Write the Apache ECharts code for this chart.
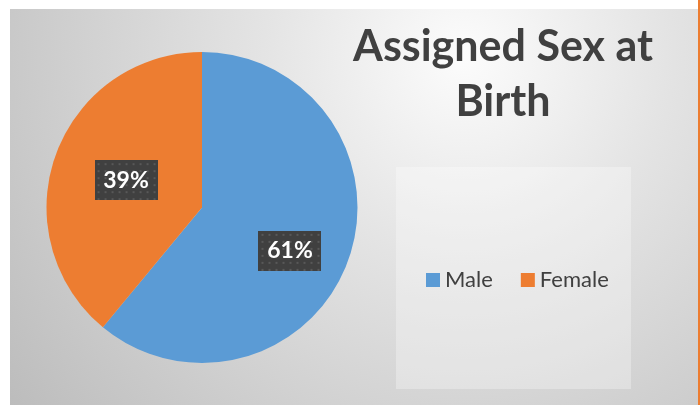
<!DOCTYPE html>
<html>
<head>
<meta charset="utf-8">
<script src="https://cdn.jsdelivr.net/npm/echarts@6/dist/echarts.min.js"></script>
<style>
  html, body { margin: 0; padding: 0; background: #fff; }
  #main { width: 700px; height: 405px; }
</style>
</head>
<body>
<div id="main"></div>
<script>
var categories = ['Male', 'Female'];
var values = [61, 39];
var colors = ['#5B9BD5', '#ED7D31'];
var titleText = 'Assigned Sex at\nBirth';

// dotted dark box used behind the data labels
function dotBox(w, h) {
    var c = document.createElement('canvas');
    c.width = w;
    c.height = h;
    var ctx = c.getContext('2d');
    ctx.fillStyle = '#404040';
    ctx.fillRect(0, 0, w, h);
    ctx.fillStyle = '#585858';
    for (var y = 3; y < h; y += 7) {
        for (var x = 3; x < w; x += 7) {
            ctx.fillRect(x, y, 2, 2);
        }
    }
    return c;
}

var boxImg = dotBox(63, 40);

var pieData = categories.map(function (name, i) {
    return {name: name, value: values[i]};
});

var myChart = echarts.init(document.getElementById('main'));

myChart.setOption({
    color: colors,
    animation: false,
    graphic: [
        {
            type: 'rect',
            z: -10,
            silent: true,
            shape: {x: 10, y: 9, width: 688, height: 396},
            style: {
                fill: new echarts.graphic.RadialGradient(0.66, 0.12, 1.45, [
                    {offset: 0, color: '#fcfcfc'},
                    {offset: 0.35, color: '#e4e4e4'},
                    {offset: 1, color: '#bcbcbc'}
                ])
            }
        },
        {
            type: 'rect',
            z: -9,
            silent: true,
            shape: {x: 698, y: 0, width: 2, height: 405},
            style: {fill: '#ED7D31'}
        },
        {
            type: 'rect',
            z: -8,
            silent: true,
            shape: {x: 396, y: 167, width: 235, height: 222},
            style: {fill: 'rgba(255,255,255,0.3)'}
        }
    ],
    title: {
        text: titleText,
        left: 498,
        top: 15,
        textAlign: 'center',
        textStyle: {
            fontFamily: 'Lato',
            fontWeight: 'bold',
            fontSize: 43,
            lineHeight: 55,
            color: '#404040'
        }
    },
    legend: {
        data: categories,
        orient: 'horizontal',
        left: 421,
        top: 264,
        icon: 'rect',
        itemWidth: 14,
        itemHeight: 14,
        itemGap: 28,
        textStyle: {
            fontFamily: 'Lato',
            fontSize: 22,
            color: '#404040'
        }
    },
    series: [
        {
            name: 'Assigned Sex at Birth',
            type: 'pie',
            center: [202, 207.5],
            radius: 155.5,
            startAngle: 90,
            clockwise: true,
            data: pieData,
            itemStyle: {borderWidth: 0},
            label: {
                show: true,
                position: 'inside',
                formatter: '{d}%',
                fontFamily: 'Lato',
                fontWeight: 'bold',
                fontSize: 23,
                color: '#ffffff',
                width: 63,
                height: 40,
                lineHeight: 40,
                align: 'center',
                verticalAlign: 'middle',
                padding: 0,
                backgroundColor: {image: boxImg},
                shadowColor: 'rgba(0,0,0,0.55)',
                shadowBlur: 6,
                shadowOffsetX: 3,
                shadowOffsetY: 3
            },
            labelLine: {show: false},
            labelLayout: function (params) {
                // Excel puts the larger slice label further out
                if (params.dataIndex === 0) {
                    return {dx: 12, dy: 16};
                }
                return {};
            },
            emphasis: {disabled: true}
        }
    ]
});
</script>
</body>
</html>
